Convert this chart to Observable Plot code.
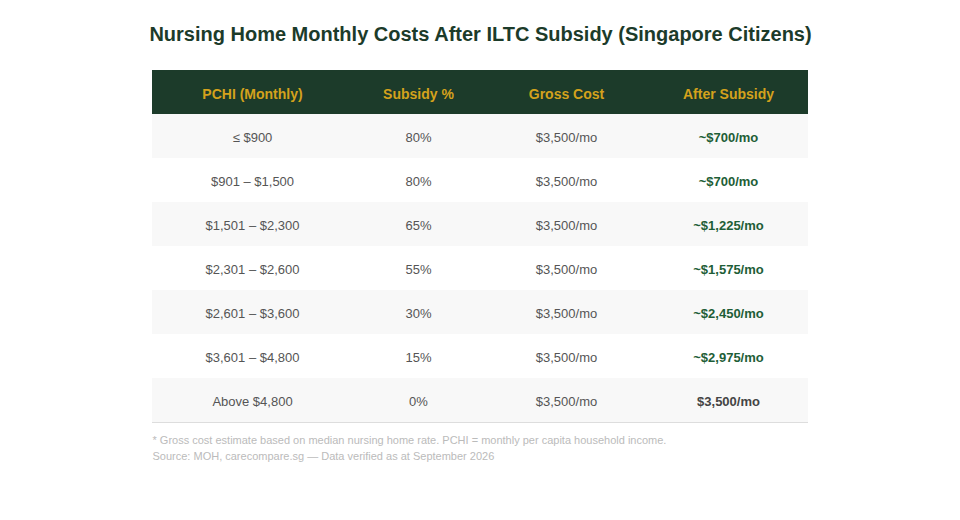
<!DOCTYPE html>
<html>
<head>
<meta charset="utf-8">
<script src="https://cdn.jsdelivr.net/npm/d3@7"></script>
<script src="https://cdn.jsdelivr.net/npm/@observablehq/plot@0.6"></script>
<style>
  html, body { margin: 0; padding: 0; background: #fff; }
  #chart svg { display: block; font-family: "Liberation Sans", Arial, sans-serif; }
</style>
</head>
<body>
<div id="chart"></div>
<script>
const title = "Nursing Home Monthly Costs After ILTC Subsidy (Singapore Citizens)";
const headers = ["PCHI (Monthly)", "Subsidy %", "Gross Cost", "After Subsidy"];
const pchi = ["≤ $900", "$901 – $1,500", "$1,501 – $2,300", "$2,301 – $2,600", "$2,601 – $3,600", "$3,601 – $4,800", "Above $4,800"];
const subsidy = ["80%", "80%", "65%", "55%", "30%", "15%", "0%"];
const gross = ["$3,500/mo", "$3,500/mo", "$3,500/mo", "$3,500/mo", "$3,500/mo", "$3,500/mo", "$3,500/mo"];
const afterSubsidy = ["~$700/mo", "~$700/mo", "~$1,225/mo", "~$1,575/mo", "~$2,450/mo", "~$2,975/mo", "$3,500/mo"];
const noteLine = "* Gross cost estimate based on median nursing home rate. PCHI = monthly per capita household income.";
const sourceLine = "Source: MOH, carecompare.sg — Data verified as at September 2026";

// layout (not data): relative column widths
const colWidths = [200, 132, 164, 160];
const colEdges = colWidths.reduce((a, w) => (a.push(a[a.length - 1] + w), a), [0]);
const tableW = colEdges[colEdges.length - 1];
const colCenter = i => (colEdges[i] + colEdges[i + 1]) / 2;

const rowKeys = ["header", ...pchi.map((_, i) => "r" + i)];
const rows = pchi.map((_, i) => ({row: "r" + i, i}));

const headCells = headers.map((h, c) => ({row: "header", col: c, text: h}));
const bodyCells = [];
const afterCells = [];
const fullCells = [];
pchi.forEach((p, i) => {
  const r = "r" + i;
  bodyCells.push({row: r, col: 0, text: p});
  bodyCells.push({row: r, col: 1, text: subsidy[i]});
  bodyCells.push({row: r, col: 2, text: gross[i]});
  (afterSubsidy[i].startsWith("~") ? afterCells : fullCells).push({row: r, col: 3, text: afterSubsidy[i]});
});

const cellText = (data, opts) => Plot.text(data, {
  x: d => colCenter(d.col), y: "row", text: "text", textAnchor: "middle", fontSize: 13, dy: 1, ...opts
});

const plot = Plot.plot({
  width: 960,
  height: 520,
  margin: 0,
  x: {type: "linear", domain: [0, tableW], range: [152, 808], axis: null},
  y: {type: "band", domain: rowKeys, range: [70, 422], padding: 0, axis: null},
  style: {fontFamily: "'Liberation Sans', Arial, sans-serif", background: "#fff"},
  marks: [
    Plot.barX(["header"], {x1: 0, x2: tableW, y: d => d, fill: "#1c3b2a"}),
    Plot.barX(rows.filter(d => d.i % 2 === 0), {x1: 0, x2: tableW, y: "row", fill: "#f8f8f8"}),
    Plot.ruleY([rowKeys[rowKeys.length - 1]], {y: d => d, x1: 0, x2: tableW, stroke: "#dddddd", strokeWidth: 1, dy: 22}),
    cellText(headCells, {fill: "#d4a21c", fontWeight: "bold", fontSize: 14, dy: 2}),
    cellText(bodyCells, {fill: "#555555"}),
    cellText(afterCells, {fill: "#1e5e37", fontWeight: "bold"}),
    cellText(fullCells, {fill: "#444444", fontWeight: "bold"}),
    Plot.text([title], {frameAnchor: "top", dy: 34, lineAnchor: "middle", fontSize: 20, fontWeight: "bold", fill: "#1c3b2a"}),
    Plot.text([noteLine], {x: 0, frameAnchor: "top", dy: 440, textAnchor: "start", lineAnchor: "middle", fontSize: 11, fill: "#bbbbbb"}),
    Plot.text([sourceLine], {x: 0, frameAnchor: "top", dy: 456, textAnchor: "start", lineAnchor: "middle", fontSize: 11, fill: "#bbbbbb"})
  ]
});
document.getElementById("chart").appendChild(plot);
</script>
</body>
</html>
